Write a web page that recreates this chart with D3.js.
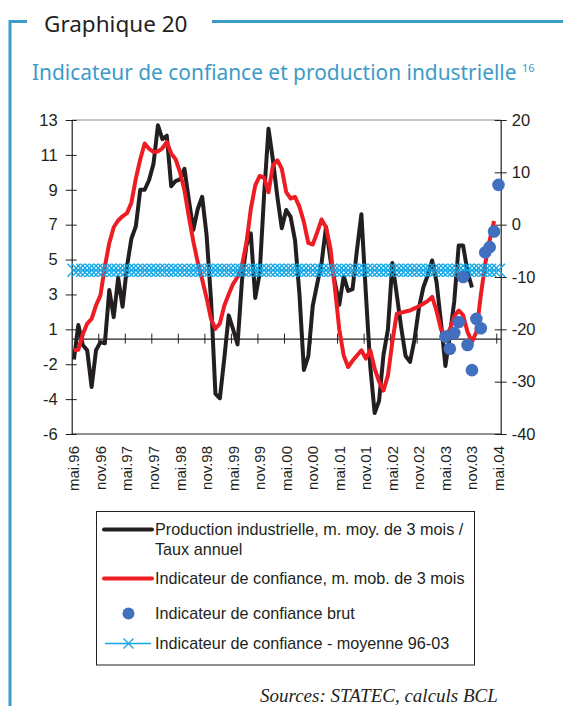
<!DOCTYPE html>
<html>
<head>
<meta charset="utf-8">
<script src="https://cdn.jsdelivr.net/npm/d3@7"></script>
<style>
  body { margin: 0; background: #fff; }
</style>
</head>
<body>
<script>
// x axis labels, one every 6 months
var tickLabels = ["mai.96", "nov.96", "mai.97", "nov.97", "mai.98", "nov.98", "mai.99", "nov.99",
    "mai.00", "nov.00", "mai.01", "nov.01", "mai.02", "nov.02", "mai.03", "nov.03", "mai.04"];
var leftTicks = [13, 11, 9, 7, 5, 3, 1, -2, -4, -6];
var rightTicks = [20, 10, 0, -10, -20, -30, -40];

// production industrielle, m. moy. 3 mois / taux annuel (mai.96 -> nov.03), left axis
var production = [-1.6, 1.25, -0.35, -0.8, -3.3, -0.8, -0.1, -0.2, 3.25, 1.7,
    3.95, 2.3, 4.6, 6.2, 6.9, 9.0, 9.0, 9.56, 10.5, 12.7,
    11.9, 12.1, 9.2, 9.5, 9.6, 10.2, 8.4, 6.7, 7.9, 8.6,
    6.4, 2.7, -3.7, -3.95, -1.5, 1.8, 1.0, -0.3, 3.8, 5.8,
    6.5, 2.8, 4.2, 8.7, 12.5, 10.7, 8.6, 6.8, 7.84, 7.45,
    6.1, 3.0, -2.33, -1.3, 2.35, 3.6, 4.8, 6.87, 5.0, 3.7,
    2.4, 4.06, 3.2, 3.3, 5.55, 7.6, 3.1, -2.1, -4.8, -4.1,
    -1.2, 1.0, 4.8, 3.0, 1.1, -1.3, -1.8, 0.1, 2.2, 3.4,
    4.1, 4.95, 3.7, 1.4, -2.1, 0.5, 2.6, 5.8, 5.8, 4.3, 3.4];

// indicateur de confiance, m. mob. 3 mois (mai.96 -> avr.04), right axis
var confiance = [-24.0, -23.9, -21.0, -18.9, -18.0, -15.4, -13.5, -8.0, -3.5, -0.5,
    0.8, 1.6, 2.2, 4.2, 8.8, 12.5, 15.5, 14.5, 13.9, 14.0,
    14.6, 15.8, 13.6, 12.5, 10.0, 6.5, 1.5, -3.2, -7.2, -10.5,
    -14.0, -18.0, -19.9, -18.9, -15.5, -13.3, -11.3, -10.0, -7.8, -3.5,
    3.0, 7.5, 9.3, 9.0, 6.2, 11.3, 12.3, 10.7, 6.2, 5.0,
    5.3, 3.4, 0.5, -3.5, -3.8, -1.5, 1.0, -0.5, -4.5, -12.0,
    -20.0, -25.0, -27.2, -26.0, -25.0, -24.0, -25.6, -24.0, -27.5, -30.0,
    -31.7, -28.8, -22.4, -17.0, -16.8, -16.6, -16.4, -16.0, -15.6, -15.1,
    -14.6, -13.8, -16.5, -20.0, -21.2, -20.0, -17.5, -16.4, -17.3, -20.5,
    -22.4, -20.5, -13.5, -7.5, -3.0, 0.7];

// indicateur de confiance brut (mai.03 -> mai.04), right axis
var brutStart = 84;
var confBrut = [-21.4, -23.7, -20.7, -18.6, -10.0, -23.0, -27.8, -18.0, -19.8, -5.3, -4.3, -1.3, 7.6];

// moyenne 96-03 of the confidence indicator, right axis
var confMoyenne = -8.7;
var nMonths = 97;

var W = 563, H = 706;
var plot = { left: 71.7, right: 500.7, top: 120, bottom: 434 };
var frameColor = "#3c9bc8";
var ink = "#231f20";

var svg = d3.select("body").append("svg")
    .attr("width", W)
    .attr("height", H)
    .style("font-family", "'Liberation Sans', Arial, sans-serif");

// frame and titles
svg.append("path")
    .attr("d", "M10,706V21.5H27")
    .attr("fill", "none")
    .attr("stroke", frameColor)
    .attr("stroke-width", 3);
svg.append("line")
    .attr("x1", 212).attr("x2", W)
    .attr("y1", 21.5).attr("y2", 21.5)
    .attr("stroke", frameColor)
    .attr("stroke-width", 3);
svg.append("text")
    .attr("x", 44).attr("y", 31.5)
    .attr("font-family", "'Noto Sans', sans-serif")
    .attr("font-size", 22.5)
    .attr("fill", ink)
    .text("Graphique 20");
var sub = svg.append("text")
    .attr("x", 32).attr("y", 80)
    .attr("font-family", "'Noto Sans', sans-serif")
    .attr("font-size", 20.9)
    .attr("fill", frameColor)
    .text("Indicateur de confiance et production industrielle ");
sub.append("tspan")
    .attr("font-size", 11)
    .attr("dy", -8)
    .text("16");

// scales
var x = d3.scaleLinear()
    .domain([-0.5, nMonths - 0.5])
    .range([plot.left, plot.right]);

// left axis: evenly spaced ticks with the labels as printed
var yLeft = d3.scaleLinear()
    .domain(leftTicks)
    .range(leftTicks.map(function (d, i) {
        return plot.top + i * (plot.bottom - plot.top) / (leftTicks.length - 1);
    }));

var yRight = d3.scaleLinear()
    .domain([-40, 20])
    .range([plot.bottom, plot.top]);

var plainFmt = function (d) { return String(d); };

// plot frame
svg.append("line")
    .attr("x1", plot.left).attr("x2", plot.right)
    .attr("y1", plot.top).attr("y2", plot.top)
    .attr("stroke", "#8a8a8a").attr("stroke-width", 1);
svg.append("line")
    .attr("x1", plot.left).attr("x2", plot.right)
    .attr("y1", plot.bottom).attr("y2", plot.bottom)
    .attr("stroke", ink).attr("stroke-width", 1);

// left axis
var gl = svg.append("g")
    .attr("transform", "translate(" + plot.left + ",0)")
    .call(d3.axisLeft(yLeft).tickValues(leftTicks).tickFormat(plainFmt)
        .tickSizeInner(6).tickSizeOuter(0).tickPadding(8));
gl.selectAll(".tick line").attr("x2", 5).attr("x1", -6);

// right axis
var gr = svg.append("g")
    .attr("transform", "translate(" + plot.right + ",0)")
    .call(d3.axisRight(yRight).tickValues(rightTicks).tickFormat(plainFmt)
        .tickSizeInner(6).tickSizeOuter(0).tickPadding(5));
gr.selectAll(".tick line").attr("x1", -6).attr("x2", 6);

[gl, gr].forEach(function (g) {
    g.select(".domain").attr("stroke", ink).attr("stroke-width", 1.2);
    g.selectAll(".tick line").attr("stroke", ink);
    g.selectAll(".tick text")
        .attr("font-family", "'Liberation Sans', Arial, sans-serif")
        .attr("font-size", 16.5)
        .attr("fill", ink);
});

// horizontal category axis crossing the left axis near 0
var xCross = yLeft(0.2);
var xTickVals = d3.range(1, tickLabels.length).map(function (k) { return k * 6 - 0.5; });
var gx = svg.append("g")
    .attr("transform", "translate(0," + xCross + ")")
    .call(d3.axisBottom(x).tickValues(xTickVals).tickSizeInner(5).tickSizeOuter(0).tickFormat(""));
gx.select(".domain").attr("stroke", ink).attr("stroke-width", 1.2);
gx.selectAll(".tick line").attr("y1", -5).attr("y2", 5).attr("stroke", ink);

// rotated category labels under the plot
svg.append("g").selectAll("text")
    .data(tickLabels)
    .join("text")
    .attr("transform", function (d, i) {
        return "translate(" + (x(i * 6) + 5.5) + "," + (plot.bottom + 12) + ") rotate(-90)";
    })
    .attr("text-anchor", "end")
    .attr("font-size", 15)
    .attr("fill", ink)
    .text(function (d) { return d; });

// series
svg.append("path")
    .datum(production)
    .attr("fill", "none")
    .attr("stroke", ink)
    .attr("stroke-width", 4)
    .attr("stroke-linejoin", "round")
    .attr("d", d3.line()
        .x(function (d, i) { return x(i); })
        .y(function (d) { return yLeft(d); }));

svg.append("path")
    .datum(confiance)
    .attr("fill", "none")
    .attr("stroke", "#ee1d24")
    .attr("stroke-width", 4)
    .attr("stroke-linejoin", "round")
    .attr("d", d3.line()
        .x(function (d, i) { return x(i); })
        .y(function (d) { return yRight(d); }));

// mean line with x markers at each month
var meanData = d3.range(nMonths).map(function () { return confMoyenne; });
var cyan = "#12a6e4";
svg.append("path")
    .datum(meanData)
    .attr("fill", "none")
    .attr("stroke", cyan)
    .attr("stroke-width", 1.2)
    .attr("d", d3.line()
        .x(function (d, i) { return x(i); })
        .y(function (d) { return yRight(d); }));
var crossPath = "M-6.5,-6.5L6.5,6.5M-6.5,6.5L6.5,-6.5";
svg.append("g").selectAll("path")
    .data(meanData)
    .join("path")
    .attr("transform", function (d, i) { return "translate(" + x(i) + "," + yRight(d) + ")"; })
    .attr("d", crossPath)
    .attr("fill", "none")
    .attr("stroke", cyan)
    .attr("stroke-width", 1.3);

// raw indicator dots
svg.append("g").selectAll("circle")
    .data(confBrut)
    .join("circle")
    .attr("cx", function (d, i) { return x(brutStart + i); })
    .attr("cy", function (d) { return yRight(d); })
    .attr("r", 6.3)
    .attr("fill", "#4170c0");

// legend
var lg = svg.append("g");
lg.append("rect")
    .attr("x", 96.5).attr("y", 511.5)
    .attr("width", 378).attr("height", 153.5)
    .attr("fill", "none")
    .attr("stroke", ink)
    .attr("stroke-width", 1);

var legendItems = [
    { type: "line", color: ink, y: 529.5, lines: ["Production industrielle, m. moy. de 3 mois /", "Taux annuel"] },
    { type: "line", color: "#ee1d24", y: 578.5, lines: ["Indicateur de confiance, m. mob. de 3 mois"] },
    { type: "dot", color: "#4170c0", y: 613.5, lines: ["Indicateur de confiance brut"] },
    { type: "cross", color: cyan, y: 643.5, lines: ["Indicateur de confiance - moyenne 96-03"] }
];
legendItems.forEach(function (it) {
    if (it.type === "line") {
        lg.append("line")
            .attr("x1", 104).attr("x2", 152)
            .attr("y1", it.y).attr("y2", it.y)
            .attr("stroke", it.color).attr("stroke-width", 4)
            .attr("stroke-linecap", "round");
    } else if (it.type === "dot") {
        lg.append("circle")
            .attr("cx", 128.5).attr("cy", it.y).attr("r", 6)
            .attr("fill", it.color);
    } else {
        lg.append("line")
            .attr("x1", 105).attr("x2", 151)
            .attr("y1", it.y).attr("y2", it.y)
            .attr("stroke", it.color).attr("stroke-width", 1.3);
        lg.append("path")
            .attr("transform", "translate(128.5," + it.y + ")")
            .attr("d", "M-5,-5L5,5M-5,5L5,-5")
            .attr("fill", "none")
            .attr("stroke", it.color).attr("stroke-width", 1.3);
    }
    it.lines.forEach(function (t, j) {
        lg.append("text")
            .attr("x", 155)
            .attr("y", it.y + 5.5 + j * 20)
            .attr("font-size", 16.2)
            .attr("fill", ink)
            .text(t);
    });
});

// source note
svg.append("text")
    .attr("x", 260).attr("y", 702)
    .attr("font-family", "'Liberation Serif', 'Times New Roman', serif")
    .attr("font-style", "italic")
    .attr("font-size", 19)
    .attr("fill", ink)
    .text("Sources: STATEC, calculs BCL");
</script>
</body>
</html>
